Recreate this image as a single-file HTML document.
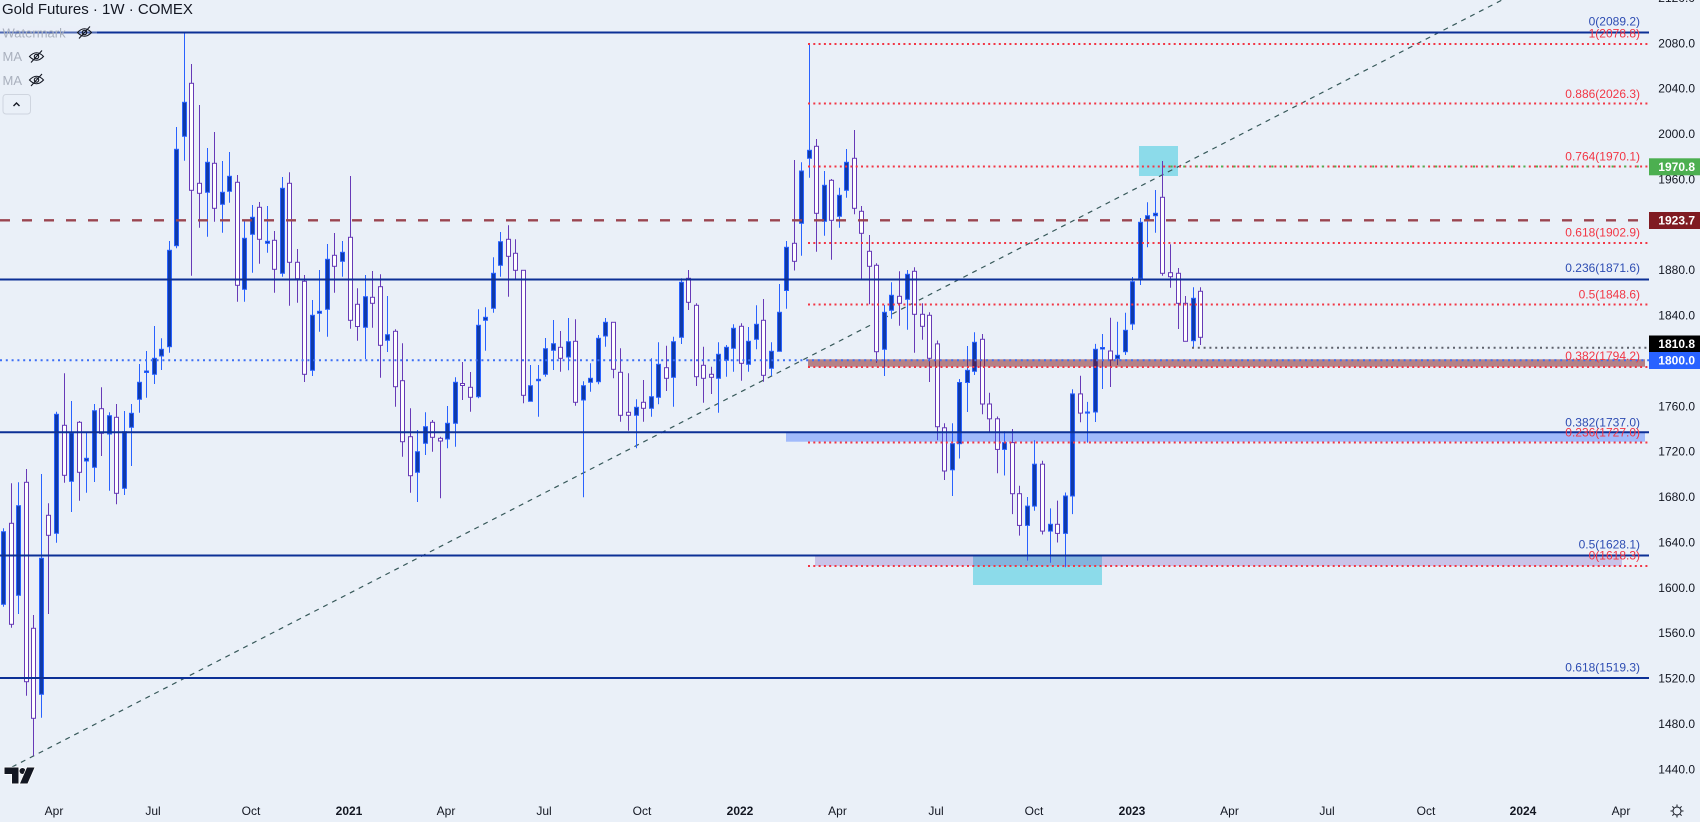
<!DOCTYPE html>
<html><head><meta charset="utf-8"><style>
html,body{margin:0;padding:0;background:#eaf0f8;}
svg{display:block;font-family:"Liberation Sans",Arial,sans-serif;}
</style></head><body>
<svg width="1700" height="822" viewBox="0 0 1700 822" xmlns="http://www.w3.org/2000/svg">
<rect x="0" y="0" width="1700" height="822" fill="#eaf0f8"/>

<!-- boxes / bands -->
<rect x="973" y="555" width="129" height="30" fill="rgba(0,188,212,0.4)"/>
<rect x="1139" y="146" width="39" height="30" fill="rgba(0,188,212,0.4)"/>

<!-- trend line -->
<line x1="12" y1="767" x2="1504" y2="-1" stroke="#37595a" stroke-width="1.2" stroke-dasharray="5,5"/>

<!-- candles: wicks -->
<path fill="none" stroke="#2962ff" stroke-width="1" d="M3.5 528.3V606.7M18.5 482.3V614M41.5 474V717.7M56.5 411.7V542.7M71.5 401V512M86.5 431.7V492.7M94.5 404V482M109.5 412.3V490.7M124.5 411V495M131.5 404V466M139.5 364V412.7M146.5 351V397.7M154.5 326V384M161.5 338.3V370M169.5 241V352.7M176.5 127V248.3M184.5 31.7V160.7M207.5 148V236.7M222.5 161V232.7M229.5 152V202.7M244.5 220V301.7M252.5 205V272.7M267.5 206V252.7M282.5 177V276.7M312.5 300V376M319.5 270V331.7M327.5 244V336.7M342.5 241V276.7M365.5 275V359M387.5 296V352M417.5 430V502M425.5 412.3V455M447.5 406V448.3M455.5 377.3V446.7M478.5 309.3V398.3M485.5 307.3V350.7M493.5 257.3V312.7M500.5 232V276.7M530.5 365V401.3M538.5 365V416.7M545.5 338V376.7M553.5 320V370M568.5 318V370.3M583.5 381.3V497.3M590.5 363.3V391.7M598.5 335V384.3M605.5 318V346.7M636.5 399.3V448.3M651.5 358.3V416.7M658.5 342.3V404.3M673.5 336.7V406.7M681.5 278.3V344M718.5 342.3V412.7M726.5 345V376.7M733.5 324.3V371.7M748.5 327V371.7M756.5 305.3V349.3M771.5 342.3V375.7M779.5 284V351.3M786.5 241V308.7M801.5 162.3V255.7M809.5 44V177.7M824.5 171V235.7M839.5 187.7V227.7M846.5 149V197.7M884.5 305V376M891.5 282.3V318.7M907.5 270V329.7M952.5 423.3V496M959.5 379V458.5M967.5 346V412M974.5 332.3V375M1004.5 431.3V475.5M1027.5 497V560.6M1034.5 440.3V510.7M1050.5 508.4V562.8M1065.5 492.5V567.3M1072.5 389.3V514.1M1087.5 401.9V442.6M1095.5 343.9V422M1102.5 334V389M1117.5 321.7V365M1125.5 312.7V355M1132.5 277V330M1140.5 218V285M1147.5 202.3V247.3M1155.5 190V232.7M1193.5 287.3V347.3"/>
<path fill="none" stroke="#673ab7" stroke-width="1" d="M11.5 483.3V627.7M26.5 469V695.7M33.5 615V755.7M48.5 503.3V614M64.5 373.3V482.7M79.5 421V500.7M101.5 387.3V456M116.5 404V504.3M191.5 64V275.7M199.5 105V227.7M214.5 132V221.7M237.5 175V301.7M259.5 202V263.7M274.5 231V292.7M289.5 172.3V305.7M297.5 249V302.7M304.5 275V382M334.5 233V292.7M350.5 176V328.7M357.5 288.3V340.7M372.5 271V327.7M380.5 274.3V377.7M395.5 329.3V406.7M402.5 343.3V456.7M410.5 408.3V492.7M432.5 420V451.7M440.5 436.7V498.3M462.5 362V400M470.5 372V411.7M508.5 225.3V296.7M515.5 239.3V279M523.5 270.3V403.3M560.5 331V371.7M575.5 319.3V405.7M613.5 322.3V378.3M620.5 348.3V421.7M628.5 373.3V430.7M643.5 380V421.7M666.5 345.7V391M688.5 270V310M696.5 303.3V386M703.5 346.7V402.7M711.5 366.7V394M741.5 323.3V380.7M763.5 299V381.7M794.5 160V270.5M816.5 139V251.7M831.5 179V259.7M854.5 130V214.3M861.5 206V279.3M869.5 235V304.3M876.5 263.3V362.7M899.5 271.3V325.7M914.5 267.3V352.7M922.5 303.3V339.7M929.5 312.3V382M937.5 340.5V440.3M944.5 423.3V480M982.5 334V414.2M989.5 392.7V432.4M997.5 416.5V473.2M1012.5 429V514.1M1019.5 485.7V535.6M1042.5 460.7V534.5M1057.5 500.6V542.5M1080.5 375.7V422.2M1110.5 317.7V387M1162.5 161V275.7M1170.5 244.3V287.7M1178.5 268V329M1185.5 296V341.3M1200.5 287.3V345"/>

<!-- filled (up) bodies -->
<g fill="#0f3aa8" stroke="#2962ff" stroke-width="1">
<rect x="1.5" y="531.7" width="4" height="72.6"/><rect x="16.5" y="505.7" width="4" height="89.6"/><rect x="39.5" y="558.3" width="4" height="136"/><rect x="54.5" y="414.3" width="4" height="119"/><rect x="69.5" y="433" width="4" height="48.3"/><rect x="84.5" y="458.3" width="4" height="2.7"/><rect x="92.5" y="410.7" width="4" height="56.6"/><rect x="107.5" y="415.7" width="4" height="18.3"/><rect x="122.5" y="431.7" width="4" height="56.6"/><rect x="129.5" y="413.3" width="4" height="14"/><rect x="137.5" y="382.3" width="4" height="17"/><rect x="144.5" y="371" width="4" height="1.5"/><rect x="152.5" y="358.3" width="4" height="16"/><rect x="159.5" y="349.3" width="4" height="6.7"/><rect x="167.5" y="250.3" width="4" height="96.4"/><rect x="174.5" y="149.3" width="4" height="96.4"/><rect x="182.5" y="102.3" width="4" height="34"/><rect x="205.5" y="162.3" width="4" height="30"/><rect x="220.5" y="192.3" width="4" height="12"/><rect x="227.5" y="176.3" width="4" height="15"/><rect x="242.5" y="238.3" width="4" height="51"/><rect x="250.5" y="217.3" width="4" height="17"/><rect x="265.5" y="241.3" width="4" height="2"/><rect x="280.5" y="188.3" width="4" height="85"/><rect x="310.5" y="315.3" width="4" height="55"/><rect x="317.5" y="311.3" width="4" height="2"/><rect x="325.5" y="259.3" width="4" height="50"/><rect x="340.5" y="252.3" width="4" height="9"/><rect x="363.5" y="296.7" width="4" height="30.6"/><rect x="385.5" y="334.7" width="4" height="5.6"/><rect x="415.5" y="451.7" width="4" height="20.6"/><rect x="423.5" y="426.7" width="4" height="16.6"/><rect x="445.5" y="423.3" width="4" height="15.7"/><rect x="453.5" y="382.3" width="4" height="41"/><rect x="476.5" y="325.3" width="4" height="71.4"/><rect x="483.5" y="317.3" width="4" height="3"/><rect x="491.5" y="273.3" width="4" height="35"/><rect x="498.5" y="241.7" width="4" height="23.6"/><rect x="528.5" y="385.7" width="4" height="15.6"/><rect x="536.5" y="379.3" width="4" height="1.4"/><rect x="543.5" y="348.7" width="4" height="25.6"/><rect x="551.5" y="343.7" width="4" height="6.6"/><rect x="566.5" y="341.7" width="4" height="15.3"/><rect x="581.5" y="385.7" width="4" height="14.3"/><rect x="588.5" y="378.3" width="4" height="4"/><rect x="596.5" y="338.3" width="4" height="43.4"/><rect x="603.5" y="322.3" width="4" height="13.7"/><rect x="634.5" y="407.3" width="4" height="8"/><rect x="649.5" y="396.7" width="4" height="11.6"/><rect x="656.5" y="364.3" width="4" height="33"/><rect x="671.5" y="341.7" width="4" height="35.6"/><rect x="679.5" y="282.3" width="4" height="55"/><rect x="716.5" y="354.3" width="4" height="24"/><rect x="724.5" y="347.3" width="4" height="13"/><rect x="731.5" y="328.3" width="4" height="20"/><rect x="746.5" y="341.3" width="4" height="23"/><rect x="754.5" y="324.3" width="4" height="15"/><rect x="769.5" y="351.3" width="4" height="17"/><rect x="777.5" y="312.3" width="4" height="39"/><rect x="784.5" y="247.3" width="4" height="43.2"/><rect x="799.5" y="171" width="4" height="52.3"/><rect x="807.5" y="150.3" width="4" height="8"/><rect x="822.5" y="185.3" width="4" height="36"/><rect x="837.5" y="195.3" width="4" height="21"/><rect x="844.5" y="162.3" width="4" height="28"/><rect x="882.5" y="312.3" width="4" height="37"/><rect x="889.5" y="295.3" width="4" height="15"/><rect x="905.5" y="274.3" width="4" height="25"/><rect x="950.5" y="443.7" width="4" height="26.1"/><rect x="957.5" y="382.5" width="4" height="61.2"/><rect x="965.5" y="370.3" width="4" height="12.2"/><rect x="972.5" y="342.3" width="4" height="29"/><rect x="1002.5" y="442.6" width="4" height="6.8"/><rect x="1025.5" y="506.1" width="4" height="19.3"/><rect x="1032.5" y="464.2" width="4" height="41.9"/><rect x="1048.5" y="524.3" width="4" height="6.8"/><rect x="1063.5" y="496" width="4" height="37.4"/><rect x="1070.5" y="393.9" width="4" height="102.1"/><rect x="1085.5" y="412" width="4" height="1.1"/><rect x="1093.5" y="349.3" width="4" height="62.7"/><rect x="1100.5" y="347.5" width="4" height="1.5"/><rect x="1115.5" y="355.3" width="4" height="3.4"/><rect x="1123.5" y="330.3" width="4" height="21.4"/><rect x="1130.5" y="281.7" width="4" height="42.3"/><rect x="1138.5" y="222.3" width="4" height="56"/><rect x="1145.5" y="215.7" width="4" height="4.3"/><rect x="1153.5" y="213.3" width="4" height="2.4"/><rect x="1191.5" y="298.3" width="4" height="42.4"/>
</g>
<!-- hollow (down) bodies -->
<g fill="#ffffff" stroke="#673ab7" stroke-width="1">
<rect x="9.5" y="523.3" width="4" height="101"/><rect x="24.5" y="482.3" width="4" height="199.4"/><rect x="31.5" y="628.3" width="4" height="90"/><rect x="46.5" y="515.3" width="4" height="20"/><rect x="62.5" y="425.3" width="4" height="50"/><rect x="77.5" y="422.3" width="4" height="50"/><rect x="99.5" y="408.7" width="4" height="24.6"/><rect x="114.5" y="417.3" width="4" height="76"/><rect x="189.5" y="83.3" width="4" height="107"/><rect x="197.5" y="183.3" width="4" height="10"/><rect x="212.5" y="163.3" width="4" height="45"/><rect x="235.5" y="182.3" width="4" height="103"/><rect x="257.5" y="207.3" width="4" height="32"/><rect x="272.5" y="240.3" width="4" height="29"/><rect x="287.5" y="183.3" width="4" height="79"/><rect x="295.5" y="262.3" width="4" height="16.4"/><rect x="302.5" y="281.3" width="4" height="93"/><rect x="332.5" y="255.3" width="4" height="11"/><rect x="348.5" y="237.3" width="4" height="83"/><rect x="355.5" y="304.3" width="4" height="22.2"/><rect x="370.5" y="297.3" width="4" height="6"/><rect x="378.5" y="286.7" width="4" height="58.6"/><rect x="393.5" y="331.3" width="4" height="55.4"/><rect x="400.5" y="380.7" width="4" height="61"/><rect x="408.5" y="436.7" width="4" height="39"/><rect x="430.5" y="422.3" width="4" height="15"/><rect x="438.5" y="438.3" width="4" height="2.7"/><rect x="460.5" y="383.5" width="4" height="2"/><rect x="468.5" y="387.3" width="4" height="10"/><rect x="506.5" y="239.3" width="4" height="17"/><rect x="513.5" y="253.3" width="4" height="17"/><rect x="521.5" y="270.3" width="4" height="125"/><rect x="558.5" y="347.3" width="4" height="11"/><rect x="573.5" y="341.3" width="4" height="61"/><rect x="611.5" y="322.3" width="4" height="47"/><rect x="618.5" y="372.3" width="4" height="43"/><rect x="626.5" y="412.3" width="4" height="3"/><rect x="641.5" y="402.3" width="4" height="6"/><rect x="664.5" y="367.7" width="4" height="10.6"/><rect x="686.5" y="278.3" width="4" height="24"/><rect x="694.5" y="305.3" width="4" height="71.4"/><rect x="701.5" y="365.3" width="4" height="13"/><rect x="709.5" y="374.3" width="4" height="3"/><rect x="739.5" y="326.3" width="4" height="37"/><rect x="761.5" y="320.3" width="4" height="55"/><rect x="792.5" y="243.3" width="4" height="18"/><rect x="814.5" y="146.3" width="4" height="67"/><rect x="829.5" y="180.3" width="4" height="40"/><rect x="852.5" y="158.3" width="4" height="50"/><rect x="859.5" y="211.3" width="4" height="22"/><rect x="867.5" y="251.3" width="4" height="15"/><rect x="874.5" y="265.3" width="4" height="86.4"/><rect x="897.5" y="296.3" width="4" height="7"/><rect x="912.5" y="271.3" width="4" height="43"/><rect x="920.5" y="314.3" width="4" height="12"/><rect x="927.5" y="315.3" width="4" height="43"/><rect x="935.5" y="343.9" width="4" height="82.8"/><rect x="942.5" y="427.8" width="4" height="43.2"/><rect x="980.5" y="339.3" width="4" height="64.7"/><rect x="987.5" y="404" width="4" height="14.8"/><rect x="995.5" y="418.8" width="4" height="30.6"/><rect x="1010.5" y="442.6" width="4" height="51.1"/><rect x="1017.5" y="493.7" width="4" height="31.7"/><rect x="1040.5" y="464.2" width="4" height="66.9"/><rect x="1055.5" y="524.3" width="4" height="9.1"/><rect x="1078.5" y="393.9" width="4" height="19.2"/><rect x="1108.5" y="351" width="4" height="9"/><rect x="1160.5" y="197.3" width="4" height="76"/><rect x="1168.5" y="272.7" width="4" height="4"/><rect x="1176.5" y="273.3" width="4" height="30"/><rect x="1183.5" y="303.3" width="4" height="38"/><rect x="1198.5" y="291.3" width="4" height="46"/>
</g>

<!-- translucent bands over candles -->
<rect x="808" y="359.3" width="837" height="7.4" fill="rgba(128,18,20,0.5)"/>
<rect x="786" y="432.3" width="859" height="9.4" fill="rgba(41,98,255,0.38)"/>
<rect x="815" y="556" width="807" height="10" fill="rgba(103,58,183,0.25)"/>

<!-- red fib dotted lines -->
<g stroke="#f23645" stroke-width="2" stroke-dasharray="2,3.3">
<line x1="808" y1="44" x2="1649" y2="44"/>
<line x1="808" y1="103.5" x2="1649" y2="103.5"/>
<line x1="808" y1="166.5" x2="1649" y2="166.5"/>
<line x1="808" y1="243" x2="1649" y2="243"/>
<line x1="808" y1="304.5" x2="1649" y2="304.5"/>
<line x1="808" y1="367" x2="1649" y2="367"/>
<line x1="808" y1="442.5" x2="1649" y2="442.5"/>
<line x1="808" y1="566" x2="1649" y2="566"/>
</g>
<!-- green / gray / blue dotted -->
<line x1="1168" y1="166.5" x2="1649" y2="166.5" stroke="#4caf50" stroke-width="2" stroke-dasharray="2,10.6" stroke-dashoffset="-2.6"/>
<line x1="1192" y1="347.7" x2="1649" y2="347.7" stroke="#5d606b" stroke-width="2" stroke-dasharray="2,3.8"/>
<line x1="0" y1="360.3" x2="1649" y2="360.3" stroke="#3d6ff5" stroke-width="2" stroke-dasharray="2,3.8"/>
<!-- brown dashed -->
<line x1="0" y1="220.3" x2="1649" y2="220.3" stroke="#9a4550" stroke-width="2.3" stroke-dasharray="10,12"/>

<!-- navy solid lines -->
<g stroke="#0c3096" stroke-width="2">
<line x1="0" y1="32.5" x2="1649" y2="32.5"/>
<line x1="0" y1="279.5" x2="1649" y2="279.5"/>
<line x1="0" y1="432.3" x2="1649" y2="432.3"/>
<line x1="0" y1="555.5" x2="1649" y2="555.5"/>
<line x1="0" y1="678" x2="1649" y2="678"/>
</g>

<!-- fib labels -->
<g font-size="12" text-anchor="end">
<g fill="#2e4db3">
<text x="1640" y="25.7">0(2089.2)</text>
<text x="1640" y="272">0.236(1871.6)</text>
<text x="1640" y="426.3">0.382(1737.0)</text>
<text x="1640" y="548.3">0.5(1628.1)</text>
<text x="1640" y="671.7">0.618(1519.3)</text>
</g>
<g fill="#f23645">
<text x="1640" y="37.3">1(2078.8)</text>
<text x="1640" y="98">0.886(2026.3)</text>
<text x="1640" y="160.7">0.764(1970.1)</text>
<text x="1640" y="236.3">0.618(1902.9)</text>
<text x="1640" y="298.3">0.5(1848.6)</text>
<text x="1640" y="360">0.382(1794.2)</text>
<text x="1640" y="436.7">0.236(1727.0)</text>
<text x="1640" y="559.7">0(1618.3)</text>
</g>
</g>

<!-- price axis -->
<g font-size="12" fill="#131722" text-anchor="end">
<text x="1695" y="2">2120.0</text>
<text x="1695" y="47.3">2080.0</text>
<text x="1695" y="92.7">2040.0</text>
<text x="1695" y="138.1">2000.0</text>
<text x="1695" y="183.4">1960.0</text>
<text x="1695" y="274.2">1880.0</text>
<text x="1695" y="319.6">1840.0</text>
<text x="1695" y="410.3">1760.0</text>
<text x="1695" y="455.7">1720.0</text>
<text x="1695" y="501">1680.0</text>
<text x="1695" y="546.4">1640.0</text>
<text x="1695" y="591.8">1600.0</text>
<text x="1695" y="637.2">1560.0</text>
<text x="1695" y="682.6">1520.0</text>
<text x="1695" y="728">1480.0</text>
<text x="1695" y="773.3">1440.0</text>
</g>
<!-- price labels -->
<rect x="1649" y="158.3" width="51" height="17" fill="#4caf50"/>
<rect x="1649" y="212" width="51" height="17" fill="#801b22"/>
<rect x="1649" y="335.5" width="51" height="16.5" fill="#000000"/>
<rect x="1649" y="352" width="51" height="17" fill="#2962ff"/>
<g font-size="12" font-weight="bold" fill="#ffffff" text-anchor="end">
<text x="1695" y="171">1970.8</text>
<text x="1695" y="224.7">1923.7</text>
<text x="1695" y="348">1810.8</text>
<text x="1695" y="364.7">1800.0</text>
</g>

<!-- time axis -->
<g font-size="12" fill="#131722" text-anchor="middle">
<text x="54" y="815">Apr</text>
<text x="153" y="815">Jul</text>
<text x="251" y="815">Oct</text>
<text x="349" y="815" font-weight="bold">2021</text>
<text x="446" y="815">Apr</text>
<text x="544" y="815">Jul</text>
<text x="642" y="815">Oct</text>
<text x="740" y="815" font-weight="bold">2022</text>
<text x="837.5" y="815">Apr</text>
<text x="936" y="815">Jul</text>
<text x="1034" y="815">Oct</text>
<text x="1132" y="815" font-weight="bold">2023</text>
<text x="1229.5" y="815">Apr</text>
<text x="1327" y="815">Jul</text>
<text x="1426" y="815">Oct</text>
<text x="1523" y="815" font-weight="bold">2024</text>
<text x="1621" y="815">Apr</text>
</g>
<!-- gear / sun icon -->
<g stroke="#131722" stroke-width="1" fill="none">
<circle cx="1677" cy="811" r="4"/>
<path d="M1677 804.5v2M1677 815.5v2M1670.5 811h2M1681.5 811h2M1672.4 806.4l1.4 1.4M1680.2 814.2l1.4 1.4M1672.4 815.6l1.4-1.4M1680.2 807.8l1.4-1.4"/>
</g>

<!-- legend -->
<rect x="0" y="26" width="97" height="14" fill="rgba(234,240,248,0.3)"/>
<text x="2" y="13.8" font-size="15" fill="#131722">Gold Futures · 1W · COMEX</text>
<g font-size="13" fill="#a9b0bd">
<text x="2.5" y="37.5">Watermark</text>
<text x="2.5" y="61.2">MA</text>
<text x="2.5" y="84.8">MA</text>
</g>
<g stroke="#131722" stroke-width="1.1" fill="none">
<path d="M77.5 32.5q7-7.5 14 0q-7 7.5-14 0z"/><circle cx="84.5" cy="32.5" r="2.2"/><path d="M79 38.5l11-12"/>
<path d="M29.5 56.5q7-7.5 14 0q-7 7.5-14 0z"/><circle cx="36.5" cy="56.5" r="2.2"/><path d="M31 62.5l11-12"/>
<path d="M29.5 80q7-7.5 14 0q-7 7.5-14 0z"/><circle cx="36.5" cy="80" r="2.2"/><path d="M31 86l11-12"/>
</g>
<rect x="3" y="94.5" width="27.5" height="19.5" rx="3" fill="none" stroke="#cfd5df" stroke-width="1"/>
<path d="M13.5 106l3-3 3 3" stroke="#131722" stroke-width="1.4" fill="none"/>

<!-- TradingView logo -->
<g fill="#131722" stroke="#ffffff" stroke-width="1.5" paint-order="stroke">
<path d="M4.5 767.5h14v16h-6.5v-9.5h-7.5z"/>
<circle cx="22.5" cy="771" r="3"/>
<path d="M27 767.5h7.5l-7 16h-7.5z"/>
</g>
</svg>
</body></html>
